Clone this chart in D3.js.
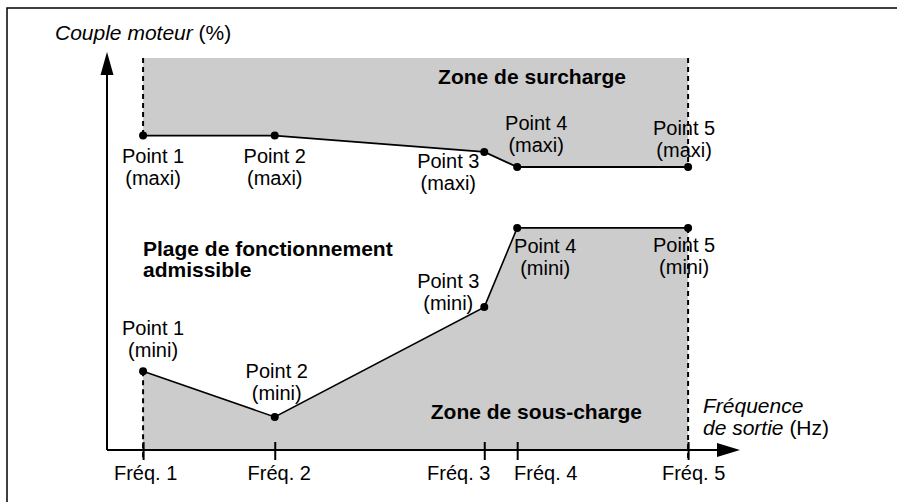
<!DOCTYPE html>
<html>
<head>
<meta charset="utf-8">
<title>Couple moteur / fréquence</title>
<script src="https://cdn.jsdelivr.net/npm/d3@7"></script>
<style>
  body { margin: 0; background: #fff; }
  svg { font-family: "Liberation Sans", Arial, sans-serif; }
  .lbl { font-size: 20px; fill: #000; }
  .ttl { font-size: 21px; fill: #000; }
  .zone { font-size: 21px; font-weight: bold; fill: #000; }
</style>
</head>
<body>
<svg id="mainsvg" width="897" height="502"></svg>
<script>
// frequencies (arbitrary units, 0-100 along the axis) and torque (% of axis)
const freqLabels = ['Fréq. 1', 'Fréq. 2', 'Fréq. 3', 'Fréq. 4', 'Fréq. 5']
const freqs = [5.7, 26.5, 59.6, 64.8, 91.8]
const torqueMax = [79, 79, 74.9, 71.1, 71.1]
const torqueMin = [19.8, 8.3, 35.9, 55.8, 55.8]
const overloadTop = 98.5
const pointNames = ['Point 1', 'Point 2', 'Point 3', 'Point 4', 'Point 5']

// label offsets (layout only)
const maxOffsets = [[10, 27], [0, 27], [-36, 16], [19, -37], [-4, -32]]
const minOffsets = [[10, -36], [2, -39], [-36, -19], [28, 25], [-4, 24]]
const tickShift = [2, 4, -26, 28, 5]

const svg = d3.select('#mainsvg')
const x = d3.scaleLinear().domain([0, 100]).range([107, 740])
const y = d3.scaleLinear().domain([0, 100]).range([450, 52])

// outer frame
svg.append('path').attr('d', 'M7,502 V8 H897')
  .attr('fill', 'none').attr('stroke', '#000').attr('stroke-width', 1.5)

const idx = d3.range(freqs.length)

// zones
const areaTop = d3.area()
  .x(i => x(freqs[i])).y0(y(overloadTop)).y1(i => y(torqueMax[i]))
const areaBottom = d3.area()
  .x(i => x(freqs[i])).y0(y(0)).y1(i => y(torqueMin[i]))
svg.append('path').attr('d', areaTop(idx)).attr('fill', '#cccccc')
svg.append('path').attr('d', areaBottom(idx)).attr('fill', '#cccccc')

// dashed edges
const last = freqs.length - 1
const dashed = [
  [freqs[0], overloadTop, torqueMax[0]],
  [freqs[last], overloadTop, torqueMax[last]],
  [freqs[0], torqueMin[0], -2.5],
  [freqs[last], torqueMin[last], -2.5]
]
svg.selectAll('line.dash').data(dashed).join('line')
  .attr('class', 'dash')
  .attr('x1', d => x(d[0])).attr('x2', d => x(d[0]))
  .attr('y1', d => y(d[1])).attr('y2', d => y(d[2]))
  .attr('stroke', '#000').attr('stroke-width', 2)
  .attr('stroke-dasharray', '5,4')

// axes
const xAxis = d3.axisBottom(x).tickValues(freqs)
  .tickFormat((d, i) => freqLabels[i]).tickSizeInner(10).tickSizeOuter(0)
const gx = svg.append('g').attr('transform', `translate(0,${y(0)})`).call(xAxis)
gx.select('.domain').remove()
gx.selectAll('.tick line').attr('y1', -8).attr('y2', 10)
  .attr('stroke', '#000').attr('stroke-width', 2)
gx.selectAll('.tick text').attr('class', 'lbl').attr('y', 30).attr('dy', 0)
  .attr('dx', (d, i) => tickShift[i])
gx.attr('font-family', null).attr('font-size', null)

svg.append('line').attr('x1', x(0)).attr('y1', y(0)).attr('x2', x(96.5)).attr('y2', y(0))
  .attr('stroke', '#000').attr('stroke-width', 2)
svg.append('line').attr('x1', x(0)).attr('y1', y(0)).attr('x2', x(0)).attr('y2', y(95))
  .attr('stroke', '#000').attr('stroke-width', 2)
// arrow heads
svg.append('path')
  .attr('d', `M${x(100)},${y(0)} L${x(100) - 23},${y(0) - 7} L${x(100) - 23},${y(0) + 7} Z`)
svg.append('path')
  .attr('d', `M${x(0)},${y(100)} L${x(0) - 6.5},${y(100) + 23} L${x(0) + 6.5},${y(100) + 23} Z`)

// curves
const line = d3.line().x(d => x(d[0])).y(d => y(d[1]))
const maxPts = freqs.map((f, i) => [f, torqueMax[i]])
const minPts = freqs.map((f, i) => [f, torqueMin[i]])
svg.append('path').attr('d', line(maxPts)).attr('fill', 'none')
  .attr('stroke', '#000').attr('stroke-width', 1.8)
svg.append('path').attr('d', line(minPts)).attr('fill', 'none')
  .attr('stroke', '#000').attr('stroke-width', 1.6)
svg.selectAll('circle.pt').data(maxPts.concat(minPts)).join('circle')
  .attr('class', 'pt')
  .attr('cx', d => x(d[0])).attr('cy', d => y(d[1])).attr('r', 4)

// point labels
function pointLabels(pts, offs, tag) {
  const g = svg.append('g')
  pts.forEach((p, i) => {
    const t = g.append('text').attr('class', 'lbl').attr('text-anchor', 'middle')
      .attr('x', x(p[0]) + offs[i][0]).attr('y', y(p[1]) + offs[i][1])
    t.append('tspan').attr('x', x(p[0]) + offs[i][0]).text(pointNames[i])
    t.append('tspan').attr('x', x(p[0]) + offs[i][0]).attr('dy', 22).text(tag)
  })
}
pointLabels(maxPts, maxOffsets, '(maxi)')
pointLabels(minPts, minOffsets, '(mini)')

// zone titles
svg.append('text').attr('class', 'zone').attr('text-anchor', 'end')
  .attr('x', 626).attr('y', 84).text('Zone de surcharge')
svg.append('text').attr('class', 'zone').attr('text-anchor', 'end')
  .attr('x', 642).attr('y', 419).text('Zone de sous-charge')
svg.append('text').attr('class', 'zone').attr('x', 143).attr('y', 256)
  .text('Plage de fonctionnement')
svg.append('text').attr('class', 'zone').attr('x', 143).attr('y', 277)
  .text('admissible')

// axis titles
const yt = svg.append('text').attr('class', 'ttl').attr('x', 55).attr('y', 40)
yt.append('tspan').attr('font-style', 'italic').text('Couple moteur')
yt.append('tspan').text(' (%)')
const xt = svg.append('text').attr('class', 'ttl').attr('x', 703).attr('y', 413)
xt.append('tspan').attr('x', 703).attr('font-style', 'italic').text('Fréquence')
xt.append('tspan').attr('x', 703).attr('dy', 22).attr('font-style', 'italic').text('de sortie')
xt.append('tspan').text(' (Hz)')
</script>
</body>
</html>
